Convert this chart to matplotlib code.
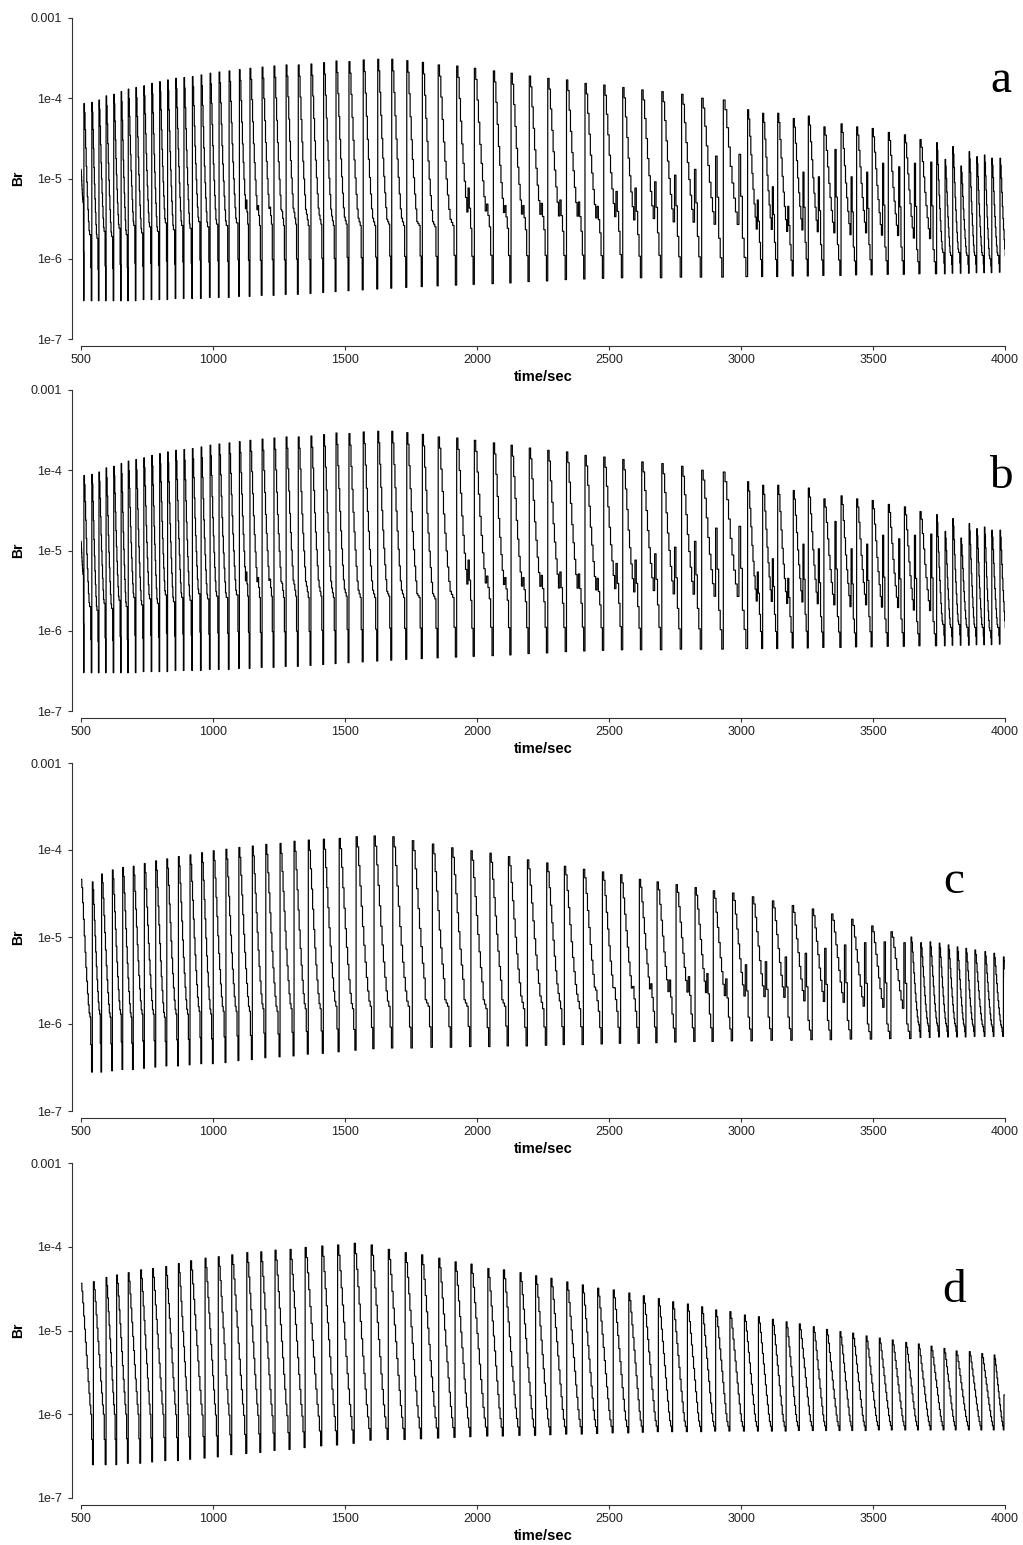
import numpy as np
import matplotlib
matplotlib.use('Agg')
import matplotlib.pyplot as plt

plt.rcParams['font.family'] = ['Liberation Sans', 'DejaVu Sans']

# ---- panel a (b shows the same run) : one entry per rise of Br ----
T_A = [500, 511, 541, 568, 595, 624, 652, 679, 708, 738, 768, 798, 828, 859, 890,
       922, 955, 989, 1023, 1061, 1100, 1140, 1186, 1231, 1277, 1323, 1371, 1419,
       1466, 1515, 1569, 1624, 1677, 1734, 1793, 1853, 1923, 1990, 2062, 2129, 2198,
       2268, 2339, 2409, 2480, 2552, 2624, 2700, 2775, 2851, 2933, 3025, 3082, 3139,
       3198, 3255, 3314, 3379, 3438, 3497, 3558, 3619, 3678, 3741, 3773, 3802, 3833,
       3864, 3893, 3922, 3950, 3981]
PEAK_A = [1.3e-5, 8.6e-5, 8.9e-5, 9.5e-5, 1.07e-4, 1.12e-4, 1.21e-4, 1.30e-4, 1.36e-4,
          1.43e-4, 1.53e-4, 1.61e-4, 1.69e-4, 1.77e-4, 1.81e-4, 1.86e-4, 1.95e-4,
          2.05e-4, 2.12e-4, 2.19e-4, 2.27e-4, 2.36e-4, 2.44e-4, 2.52e-4, 2.6e-4, 2.6e-4,
          2.67e-4, 2.78e-4, 2.91e-4, 2.86e-4, 3.0e-4, 3.06e-4, 3.06e-4, 2.94e-4, 2.8e-4,
          2.6e-4, 2.52e-4, 2.36e-4, 2.19e-4, 2.05e-4, 1.89e-4, 1.77e-4, 1.69e-4, 1.53e-4,
          1.46e-4, 1.36e-4, 1.27e-4, 1.21e-4, 1.12e-4, 1.0e-4, 9.5e-5, 7.2e-5, 6.5e-5,
          6.5e-5, 5.6e-5, 6.0e-5, 4.4e-5, 4.8e-5, 4.4e-5, 4.2e-5, 3.75e-5, 3.5e-5,
          3.06e-5, 2.8e-5, 1.73e-5, 2.5e-5, 1.43e-5, 2.16e-5, 1.87e-5, 1.96e-5, 1.79e-5,
          1.79e-5]
PLATEAU_A = [5e-6, 2.0e-6, 1.8e-6, 2.2e-6, 1.9e-6, 2.4e-6, 2.0e-6, 2.6e-6, 2.1e-6,
             2.5e-6, 2.2e-6, 2.8e-6, 2.3e-6, 2.6e-6, 2.4e-6, 2.9e-6, 2.5e-6, 2.7e-6,
             2.6e-6, 2.8e-6, 2.7e-6, 2.6e-6, 2.7e-6, 2.6e-6, 2.7e-6, 2.6e-6, 2.7e-6,
             2.6e-6, 2.7e-6, 2.6e-6, 2.6e-6, 2.7e-6, 2.6e-6, 2.6e-6, 2.5e-6, 2.6e-6,
             2.4e-6, 2.5e-6, 2.4e-6, 2.3e-6, 2.3e-6, 2.2e-6, 2.2e-6, 2.1e-6, 2.2e-6,
             2.0e-6, 2.1e-6, 1.9e-6, 1.9e-6, 1.8e-6, 1.8e-6, 1.6e-6, 1.6e-6, 1.5e-6,
             1.6e-6, 1.5e-6, 1.5e-6, 1.4e-6, 1.5e-6, 1.4e-6, 1.4e-6, 1.3e-6, 1.3e-6,
             1.2e-6, 1.1e-6, 1.2e-6, 1.1e-6, 1.1e-6, 1.1e-6, 1.0e-6, 1.1e-6, 1.0e-6]
TROUGH_A = [3.0e-7, 3.0e-7, 3.0e-7, 3.0e-7, 3.0e-7, 3.0e-7, 3.0e-7, 3.0e-7, 3.1e-7,
            3.1e-7, 3.1e-7, 3.1e-7, 3.2e-7, 3.2e-7, 3.2e-7, 3.2e-7, 3.3e-7, 3.3e-7,
            3.3e-7, 3.4e-7, 3.4e-7, 3.5e-7, 3.5e-7, 3.6e-7, 3.6e-7, 3.7e-7, 3.8e-7,
            3.9e-7, 4.0e-7, 4.1e-7, 4.2e-7, 4.3e-7, 4.4e-7, 4.5e-7, 4.6e-7, 4.7e-7,
            4.8e-7, 4.9e-7, 5.0e-7, 5.2e-7, 5.3e-7, 5.5e-7, 5.6e-7, 5.7e-7, 5.8e-7,
            5.8e-7, 5.8e-7, 5.9e-7, 5.9e-7, 5.9e-7, 6.0e-7, 6.0e-7, 6.0e-7, 6.1e-7,
            6.1e-7, 6.2e-7, 6.2e-7, 6.3e-7, 6.3e-7, 6.4e-7, 6.4e-7, 6.5e-7, 6.5e-7,
            6.5e-7, 6.6e-7, 6.6e-7, 6.6e-7, 6.7e-7, 6.7e-7, 6.7e-7, 6.8e-7, 6.8e-7]
SEC_A = [0, 0, 0, 0, 0, 0, 0, 0, 0, 0, 0, 0, 0, 0, 0, 0, 0, 0, 0, 0,
         5.4e-6, 4.6e-6, 4.4e-6, 3.9e-6, 3.8e-6, 3.6e-6, 3.5e-6, 3.4e-6, 3.3e-6,
         3.2e-6, 3.2e-6, 3.1e-6, 3.2e-6, 2.9e-6, 2.9e-6, 3.1e-6, 7.6e-6, 4.8e-6,
         4.6e-6, 4.6e-6, 4.9e-6, 5.4e-6, 5.1e-6, 4.5e-6, 6.9e-6, 7.6e-6, 9.1e-6,
         1.1e-5, 1.3e-5, 1.9e-5, 2.0e-5, 5.4e-6, 7.9e-6, 4.5e-6, 1.2e-5, 1.05e-5,
         2.3e-5, 1.05e-5, 1.2e-5, 1.55e-5, 1.4e-5, 1.55e-5, 1.6e-5,
         0, 0, 0, 0, 0, 0, 0, 0, 0]

# ---- panel c ----
T_C = [500, 543, 578, 619, 658, 698, 740, 783, 825, 869, 913, 957, 1001, 1049, 1098,
       1149, 1200, 1254, 1307, 1361, 1418, 1478, 1542, 1610, 1681, 1755, 1831, 1904,
       1977, 2049, 2119, 2191, 2264, 2331, 2403, 2475, 2544, 2615, 2682, 2754, 2826,
       2895, 2968, 3043, 3119, 3194, 3270, 3343, 3419, 3495, 3568, 3644, 3681, 3716,
       3751, 3785, 3819, 3852, 3886, 3924, 3958, 3994]
PEAK_C = [4.6e-5, 4.3e-5, 5.3e-5, 5.9e-5, 6.3e-5, 6.5e-5, 7.0e-5, 7.5e-5, 7.9e-5,
          8.4e-5, 8.8e-5, 9.3e-5, 9.8e-5, 1.02e-4, 1.07e-4, 1.11e-4, 1.16e-4, 1.19e-4,
          1.26e-4, 1.30e-4, 1.33e-4, 1.36e-4, 1.42e-4, 1.45e-4, 1.42e-4, 1.28e-4,
          1.17e-4, 1.06e-4, 9.8e-5, 9.2e-5, 8.4e-5, 7.7e-5, 7.1e-5, 6.5e-5, 6.0e-5,
          5.6e-5, 5.2e-5, 4.6e-5, 4.3e-5, 4.0e-5, 3.7e-5, 3.4e-5, 3.2e-5, 2.9e-5,
          2.6e-5, 2.3e-5, 2.1e-5, 1.84e-5, 1.6e-5, 1.34e-5, 1.15e-5, 1.0e-5, 8.6e-6,
          8.8e-6, 8.5e-6, 8.1e-6, 7.7e-6, 7.4e-6, 7.1e-6, 6.8e-6, 6.5e-6, 5.9e-6]
PLATEAU_C = [1.2e-6, 1.3e-6, 1.2e-6, 1.3e-6, 1.2e-6, 1.3e-6, 1.3e-6, 1.2e-6, 1.3e-6,
             1.3e-6, 1.4e-6, 1.3e-6, 1.4e-6, 1.4e-6, 1.4e-6, 1.5e-6, 1.4e-6, 1.5e-6,
             1.5e-6, 1.5e-6, 1.6e-6, 1.5e-6, 1.6e-6, 1.6e-6, 1.6e-6, 1.6e-6, 1.6e-6,
             1.6e-6, 1.5e-6, 1.6e-6, 1.5e-6, 1.5e-6, 1.5e-6, 1.5e-6, 1.4e-6, 1.4e-6,
             1.4e-6, 1.4e-6, 1.3e-6, 1.3e-6, 1.3e-6, 1.2e-6, 1.2e-6, 1.2e-6, 1.2e-6,
             1.1e-6, 1.1e-6, 1.1e-6, 1.0e-6, 1.0e-6, 1.0e-6, 9.8e-7, 9.6e-7, 9.6e-7,
             9.5e-7, 9.5e-7, 9.4e-7, 9.4e-7, 9.3e-7, 9.3e-7, 9.2e-7, 9.2e-7]
TROUGH_C = [2.8e-7, 2.8e-7, 2.9e-7, 3.0e-7, 3.0e-7, 3.1e-7, 3.2e-7, 3.3e-7, 3.3e-7,
            3.4e-7, 3.5e-7, 3.5e-7, 3.6e-7, 3.8e-7, 3.9e-7, 4.1e-7, 4.2e-7, 4.3e-7,
            4.5e-7, 4.6e-7, 4.8e-7, 5.0e-7, 5.2e-7, 5.3e-7, 5.3e-7, 5.4e-7, 5.4e-7,
            5.5e-7, 5.5e-7, 5.6e-7, 5.6e-7, 5.7e-7, 5.8e-7, 5.8e-7, 5.9e-7, 6.0e-7,
            6.0e-7, 6.1e-7, 6.2e-7, 6.3e-7, 6.3e-7, 6.4e-7, 6.4e-7, 6.5e-7, 6.5e-7,
            6.6e-7, 6.6e-7, 6.7e-7, 6.7e-7, 6.8e-7, 6.8e-7, 7.0e-7, 7.0e-7, 7.1e-7,
            7.1e-7, 7.1e-7, 7.1e-7, 7.2e-7, 7.2e-7, 7.2e-7, 7.2e-7, 7.3e-7]
SEC_C = [0, 0, 0, 0, 0, 0, 0, 0, 0, 0, 0, 0, 0, 0, 0, 0, 0, 0, 0, 0, 0, 0, 0, 0, 0,
         1.9e-6, 1.9e-6, 1.9e-6, 1.9e-6, 1.9e-6, 2.1e-6, 2.1e-6, 2.25e-6, 2.2e-6,
         2.45e-6, 2.6e-6, 2.7e-6, 2.9e-6, 3.2e-6, 3.5e-6, 3.8e-6, 3.3e-6, 4.8e-6,
         5.2e-6, 5.9e-6, 6.5e-6, 7.4e-6, 8.1e-6, 8.6e-6, 8.8e-6, 8.6e-6,
         0, 0, 0, 0, 0, 0, 0, 0, 0, 0, 0]

# ---- panel d ----
T_D = [500, 547, 595, 635, 679, 726, 771, 821, 869, 915, 970, 1020, 1071, 1128, 1181,
       1235, 1292, 1349, 1412, 1472, 1535, 1599, 1664, 1728, 1790, 1855, 1917, 1977,
       2041, 2100, 2163, 2222, 2280, 2340, 2399, 2457, 2516, 2575, 2630, 2687, 2741,
       2797, 2851, 2904, 2958, 3013, 3066, 3119, 3171, 3221, 3274, 3324, 3375, 3423,
       3474, 3524, 3573, 3624, 3672, 3720, 3769, 3815, 3865, 3912, 3959, 3996]
PEAK_D = [3.66e-5, 3.83e-5, 4.3e-5, 4.6e-5, 4.9e-5, 5.3e-5, 5.5e-5, 5.8e-5, 6.3e-5,
          6.8e-5, 7.3e-5, 7.6e-5, 8.0e-5, 8.5e-5, 8.7e-5, 9.1e-5, 9.3e-5, 9.8e-5,
          1.02e-4, 1.05e-4, 1.1e-4, 1.05e-4, 9.3e-5, 8.5e-5, 8.0e-5, 7.3e-5, 6.6e-5,
          6.2e-5, 5.5e-5, 5.3e-5, 4.9e-5, 4.5e-5, 4.2e-5, 3.8e-5, 3.5e-5, 3.2e-5,
          3.05e-5, 2.8e-5, 2.6e-5, 2.4e-5, 2.2e-5, 2.07e-5, 1.92e-5, 1.76e-5, 1.68e-5,
          1.53e-5, 1.46e-5, 1.36e-5, 1.27e-5, 1.2e-5, 1.11e-5, 1.03e-5, 9.7e-6, 9.3e-6,
          8.6e-6, 8.1e-6, 7.7e-6, 7.2e-6, 6.9e-6, 6.5e-6, 6.1e-6, 5.7e-6, 5.6e-6,
          5.3e-6, 5.1e-6, 1.7e-6]
PLATEAU_D = [1.0e-6, 1.0e-6, 1.0e-6, 1.0e-6, 1.0e-6, 1.0e-6, 1.0e-6, 9.9e-7, 9.9e-7,
             9.8e-7, 9.8e-7, 9.8e-7, 9.7e-7, 9.7e-7, 9.6e-7, 9.6e-7, 9.5e-7, 9.5e-7,
             9.4e-7, 9.4e-7, 9.3e-7, 9.3e-7, 9.2e-7, 9.2e-7, 9.1e-7, 9.1e-7, 9.0e-7,
             9.0e-7, 8.9e-7, 8.9e-7, 8.8e-7, 8.8e-7, 8.7e-7, 8.7e-7, 8.6e-7, 8.6e-7,
             8.5e-7, 8.5e-7, 8.4e-7, 8.4e-7, 8.3e-7, 8.3e-7, 8.2e-7, 8.2e-7, 8.2e-7,
             8.2e-7, 8.2e-7, 8.2e-7, 8.2e-7, 8.2e-7, 8.2e-7, 8.2e-7, 8.2e-7, 8.2e-7,
             8.2e-7, 8.2e-7, 8.2e-7, 8.2e-7, 8.2e-7, 8.2e-7, 8.2e-7, 8.2e-7, 8.2e-7,
             8.2e-7, 8.2e-7, 1.7e-6]
TROUGH_D = [2.5e-7, 2.5e-7, 2.5e-7, 2.6e-7, 2.6e-7, 2.7e-7, 2.8e-7, 2.8e-7, 2.9e-7,
            3.0e-7, 3.1e-7, 3.3e-7, 3.4e-7, 3.5e-7, 3.7e-7, 3.8e-7, 4.0e-7, 4.2e-7,
            4.3e-7, 4.5e-7, 4.9e-7, 5.0e-7, 5.0e-7, 5.1e-7, 5.2e-7, 5.3e-7, 5.4e-7,
            5.5e-7, 5.5e-7, 5.6e-7, 5.6e-7, 5.7e-7, 5.8e-7, 5.8e-7, 5.9e-7, 6.0e-7,
            6.0e-7, 6.1e-7, 6.2e-7, 6.2e-7, 6.2e-7, 6.2e-7, 6.3e-7, 6.3e-7, 6.3e-7,
            6.3e-7, 6.3e-7, 6.3e-7, 6.4e-7, 6.4e-7, 6.4e-7, 6.4e-7, 6.4e-7, 6.4e-7,
            6.5e-7, 6.5e-7, 6.5e-7, 6.5e-7, 6.5e-7, 6.5e-7, 6.5e-7, 6.5e-7, 6.5e-7,
            6.5e-7, 6.5e-7, 6.5e-7]

# shape of one cycle: fraction of the (log) fall from the peak to the plateau,
# read off a typical cycle; then one step half way down, then the trough
DECAY_AB = [0.0, 0.07, 0.2, 0.34, 0.48, 0.6, 0.71, 0.81, 0.9, 0.97, 1.0, 1.0]
DECAY_C = [0.0, 0.06, 0.17, 0.29, 0.41, 0.53, 0.64, 0.74, 0.83, 0.91, 0.97, 1.0]
DECAY_D = [0.0, 0.06, 0.15, 0.25, 0.35, 0.45, 0.55, 0.65, 0.75, 0.84, 0.93, 1.0]

XTICKS = [500, 1000, 1500, 2000, 2500, 3000, 3500, 4000]
YTICKS = [1e-3, 1e-4, 1e-5, 1e-6, 1e-7]
YLABELS = ['0.001', '1e-4', '1e-5', '1e-6', '1e-7']


def cycles(t, peak, plateau, trough, decay, sec=None):
    t = np.asarray(t, float)
    ends = np.append(t[1:], 2 * t[-1] - t[-2])
    n = len(decay) + 2
    xs, ys = [], []
    for k in range(len(t)):
        lp, lq = np.log10(peak[k]), np.log10(plateau[k])
        lt = np.log10(trough[k])
        vals = [lp + f * (lq - lp) for f in decay]
        if sec is not None and sec[k] > 0:
            ls = np.log10(sec[k])
            vals[-3:] = [ls, (ls + lq) / 2, lq]
        vals += [(lq + lt) / 2, lt]
        dt = (ends[k] - t[k]) / n
        xs.extend(t[k] + dt * np.arange(n))
        ys.extend(10 ** np.array(vals))
    return np.array(xs), np.array(ys)


W, H = 1023, 1545
fig = plt.figure(figsize=(W / 100, H / 100), dpi=100)

# pixel rows of 0.001 and 1e-7, letter and its position
panels = [
    (18, 339, cycles(T_A, PEAK_A, PLATEAU_A, TROUGH_A, DECAY_AB, SEC_A), 'a', 1001, 92),
    (390, 711, cycles(T_A, PEAK_A, PLATEAU_A, TROUGH_A, DECAY_AB, SEC_A), 'b', 1001, 488),
    (763, 1111, cycles(T_C, PEAK_C, PLATEAU_C, TROUGH_C, DECAY_C, SEC_C), 'c', 954, 893),
    (1163, 1498, cycles(T_D, PEAK_D, PLATEAU_D, TROUGH_D, DECAY_D), 'd', 954, 1302),
]

x0, x1 = 81, 1005
for top, bot, (xs, ys), letter, lx, ly in panels:
    ax = fig.add_axes([x0 / W, 1 - bot / H, (x1 - x0) / W, (bot - top) / H])
    ax.plot(xs, ys, color='black', lw=0.85, drawstyle='steps-post')
    ax.set_yscale('log')
    ax.set_xlim(500, 4000)
    ax.set_ylim(1e-7, 1e-3)
    ax.set_xticks(XTICKS)
    ax.set_xticklabels([str(v) for v in XTICKS])
    ax.set_yticks(YTICKS)
    ax.set_yticklabels(YLABELS)
    ax.minorticks_off()
    for s in ['top', 'right']:
        ax.spines[s].set_visible(False)
    ax.spines['left'].set_position(('outward', 6.5))
    ax.spines['bottom'].set_position(('outward', 5))
    for s in ['left', 'bottom']:
        ax.spines[s].set_linewidth(0.8)
        ax.spines[s].set_color('#333333')
    ax.tick_params(axis='both', direction='out', length=3, width=0.8,
                   labelsize=9, colors='#333333', labelcolor='#222222')
    ax.tick_params(axis='x', pad=3)
    ax.tick_params(axis='y', pad=4)

    fig.text(18 / W, 1 - (top + bot) / 2 / H, 'Br', rotation=90, ha='center',
             va='center', fontsize=10, fontweight='bold')
    fig.text((x0 + x1) / 2 / W, 1 - (bot + 38) / H, 'time/sec', ha='center',
             va='center', fontsize=10.5, fontweight='bold')
    fig.text(lx / W, 1 - ly / H, letter, ha='center', va='baseline',
             fontsize=34, family='Liberation Serif')

fig.savefig('out.png', dpi=100)
